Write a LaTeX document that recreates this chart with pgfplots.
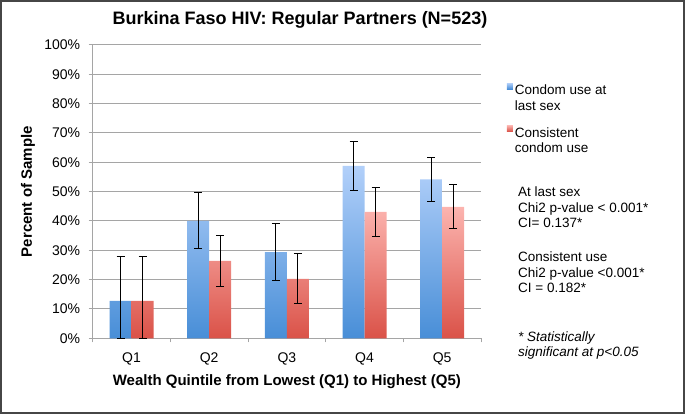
\documentclass[border=0pt]{standalone}
\usepackage{fontspec}
\setmainfont{Liberation Sans}
\usepackage{pgfplots}
\pgfplotsset{compat=1.18}

\definecolor{bluetop}{RGB}{178,208,250}
\definecolor{bluebot}{RGB}{72,142,215}
\definecolor{redtop}{RGB}{252,180,175}
\definecolor{redbot}{RGB}{218,82,72}
\definecolor{gridgray}{RGB}{165,165,165}
\definecolor{framegray}{RGB}{70,70,70}

\begin{document}
\begin{tikzpicture}[x=1pt,y=1pt]
  \useasboundingbox (0,0) rectangle (685,414);

  \begin{axis}[
    at={(92.7pt,75.7pt)},
    anchor=south west,
    scale only axis,
    width=388.3pt,
    height=293.3pt,
    ybar=0pt,
    bar width=22pt,
    xmin=-0.5, xmax=4.5,
    ymin=0, ymax=100,
    axis x line*=bottom,
    axis y line*=left,
    axis line style={draw=gridgray, line width=1pt},
    xtick={-0.5,0.5,...,4.5},
    xticklabels={},
    extra x ticks={0,1,2,3,4},
    extra x tick labels={Q1,Q2,Q3,Q4,Q5},
    extra x tick style={major tick length=0pt, grid=none},
    ytick={0,10,...,100},
    yticklabel={\pgfmathprintnumber{\tick}\%},
    tick align=outside,
    major tick length=4pt,
    tick style={draw=gridgray, line width=1pt},
    ymajorgrids,
    major grid style={draw=gridgray, line width=1pt},
    tick label style={font=\fontsize{14}{16}\selectfont},
    /pgf/number format/assume math mode=true,
    xticklabel style={yshift=-11pt},
    yticklabel style={xshift=-5pt},
    label style={font=\bfseries\fontsize{15}{18}\selectfont},
    xlabel={Wealth Quintile from Lowest (Q1) to Highest (Q5)},
    ylabel={Percent of Sample},
    xlabel style={at={(axis description cs:0.5,-0.148)}, anchor=center},
    ylabel style={at={(axis description cs:-0.1666,0.5)}, anchor=center},
    legend style={
      at={(axis description cs:1.066,0.875)},
      anchor=north west,
      draw=none, fill=none,
      font=\fontsize{13.5}{15.5}\selectfont,
      row sep=26pt,
      inner sep=0pt,
    },
    legend cell align=left,
    legend image code/.code={\fill[#1] (0pt,1pt) rectangle (6pt,7pt);},
    clip=false,
  ]

  % Condom use at last sex
  \addplot[draw=none, top color=bluetop, bottom color=bluebot,
    error bars/.cd, y dir=both, y explicit,
    error bar style={black, line width=1pt},
    error mark options={rotate=90, mark size=4pt, black, line width=1pt}]
  coordinates {
    (0,12.8) += (0,15.0) -= (0,12.8)
    (1,40.0) += (0,9.8) -= (0,9.5)
    (2,29.4) += (0,9.8) -= (0,9.6)
    (3,58.8) += (0,8.2) -= (0,8.3)
    (4,54.2) += (0,7.6) -= (0,7.5)
  };
  \addlegendentry{\begin{tabular}[t]{@{}l@{}}Condom use at\\last sex\end{tabular}}

  % Consistent condom use
  \addplot[draw=none, top color=redtop, bottom color=redbot,
    error bars/.cd, y dir=both, y explicit,
    error bar style={black, line width=1pt},
    error mark options={rotate=90, mark size=4pt, black, line width=1pt}]
  coordinates {
    (0,12.8) += (0,15.0) -= (0,12.8)
    (1,26.4) += (0,8.7) -= (0,8.8)
    (2,20.3) += (0,8.7) -= (0,8.5)
    (3,43.1) += (0,8.4) -= (0,8.3)
    (4,44.8) += (0,7.6) -= (0,7.5)
  };
  \addlegendentry{\begin{tabular}[t]{@{}l@{}}Consistent\\condom use\end{tabular}}

  \end{axis}

  % title
  \node[font=\bfseries\fontsize{18}{21}\selectfont] at (300,394) {Burkina Faso HIV: Regular Partners (N=523)};

  % notes
  \node[anchor=north west, align=left, inner sep=0pt,
    font=\fontsize{13.5}{15.5}\selectfont] at (518,227)
    {At last sex\\Chi2 p-value < 0.001*\\CI= 0.137*};
  \node[anchor=north west, align=left, inner sep=0pt,
    font=\fontsize{13.5}{15.5}\selectfont] at (518,162)
    {Consistent use\\Chi2 p-value <0.001*\\CI = 0.182*};
  \node[anchor=north west, align=left, inner sep=0pt,
    font=\itshape\fontsize{13.5}{15}\selectfont] at (518,82)
    {* Statistically\\significant at p<0.05};

  % outer frame
  \draw[framegray, line width=2pt] (1,1) rectangle (684,413);
\end{tikzpicture}
\end{document}
